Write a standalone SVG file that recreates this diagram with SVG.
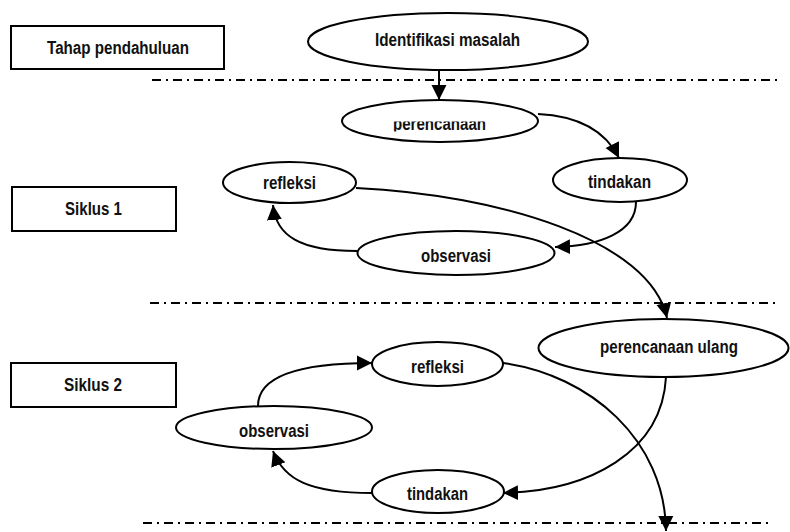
<svg xmlns="http://www.w3.org/2000/svg" width="790" height="532" viewBox="0 0 790 532">
<style>
.node{fill:#fff;stroke:#000;stroke-width:2}
.lbl{font-family:"Liberation Sans Narrow","Liberation Sans",Arial,sans-serif;font-weight:bold;font-size:18px;fill:#111}
.sep{stroke:#000;stroke-width:2;stroke-dasharray:9 5 2 5;fill:none}
.con{fill:none;stroke:#000;stroke-width:2;marker-end:url(#ah)}
</style>
<defs>
<marker id="ah" markerUnits="userSpaceOnUse" markerWidth="16" markerHeight="16" refX="15" refY="7.5" orient="auto" viewBox="0 0 16 15">
<path d="M0,0 L15,7.5 L0,15 z" fill="#000"/>
</marker>
<clipPath id="clipPer"><rect x="380" y="121.5" width="120" height="10"/></clipPath>
</defs>
<rect width="790" height="532" fill="#fff"/>
<g id="separators">
<line class="sep" x1="152" y1="80" x2="777" y2="80"/>
<line class="sep" x1="150" y1="303" x2="775" y2="303"/>
<line class="sep" x1="143" y1="523" x2="769" y2="523"/>
</g>
<g id="tahap-pendahuluan">
<rect class="node" x="11" y="26" width="213" height="43"/>
<text class="lbl" x="47" y="54" textLength="142" lengthAdjust="spacingAndGlyphs">Tahap pendahuluan</text>
</g>
<g id="siklus-1">
<rect class="node" x="12" y="187" width="164" height="44"/>
<text class="lbl" x="65" y="215" textLength="57" lengthAdjust="spacingAndGlyphs">Siklus 1</text>
</g>
<g id="siklus-2">
<rect class="node" x="11" y="363" width="165" height="44"/>
<text class="lbl" x="64" y="391" textLength="58" lengthAdjust="spacingAndGlyphs">Siklus 2</text>
</g>
<g id="identifikasi">
<ellipse class="node" cx="448" cy="41.5" rx="140" ry="28.5"/>
<text class="lbl" x="375" y="46" textLength="145" lengthAdjust="spacingAndGlyphs">Identifikasi masalah</text>
</g>
<g id="perencanaan">
<ellipse class="node" cx="440" cy="121" rx="98" ry="21"/>
<text class="lbl" x="393" y="130" textLength="93" lengthAdjust="spacingAndGlyphs" clip-path="url(#clipPer)">perencanaan</text>
</g>
<g id="tindakan-1">
<ellipse class="node" cx="620" cy="180" rx="67" ry="22"/>
<text class="lbl" x="588" y="188" textLength="63" lengthAdjust="spacingAndGlyphs">tindakan</text>
</g>
<g id="observasi-1">
<ellipse class="node" cx="456" cy="253" rx="98.5" ry="22"/>
<text class="lbl" x="421" y="262" textLength="70" lengthAdjust="spacingAndGlyphs">observasi</text>
</g>
<g id="refleksi-1">
<ellipse class="node" cx="289.5" cy="182.5" rx="66.5" ry="20.5"/>
<text class="lbl" x="263" y="189" textLength="53" lengthAdjust="spacingAndGlyphs">refleksi</text>
</g>
<g id="perencanaan-ulang">
<ellipse class="node" cx="663.5" cy="348" rx="125" ry="29"/>
<text class="lbl" x="600" y="353" textLength="138" lengthAdjust="spacingAndGlyphs">perencanaan ulang</text>
</g>
<g id="refleksi-2">
<ellipse class="node" cx="437.5" cy="364" rx="65.5" ry="22"/>
<text class="lbl" x="411" y="373" textLength="53" lengthAdjust="spacingAndGlyphs">refleksi</text>
</g>
<g id="observasi-2">
<ellipse class="node" cx="274" cy="427.5" rx="98" ry="21.5"/>
<text class="lbl" x="239" y="437" textLength="70" lengthAdjust="spacingAndGlyphs">observasi</text>
</g>
<g id="tindakan-2">
<ellipse class="node" cx="438" cy="491.5" rx="66" ry="21.5"/>
<text class="lbl" x="407" y="500" textLength="61" lengthAdjust="spacingAndGlyphs">tindakan</text>
</g>
<g id="connectors">
<path class="con" d="M439,70 L439,100"/>
<path class="con" d="M538,114 C580,116 606,132 619,158"/>
<path class="con" d="M636,202 C636,232 600,246 555,247"/>
<path class="con" d="M357,251 C300,251 276,236 273,205"/>
<path class="con" d="M356,188 C500,195 650,240 667,318"/>
<path class="con" d="M666,377 C662,452 590,491 503,493"/>
<path class="con" d="M503,363 C590,375 665,440 666,531"/>
<path class="con" d="M258,406 C258,376 300,363 372,363"/>
<path class="con" d="M372,493 C310,493 284,480 273,451"/>
</g>
</svg>
